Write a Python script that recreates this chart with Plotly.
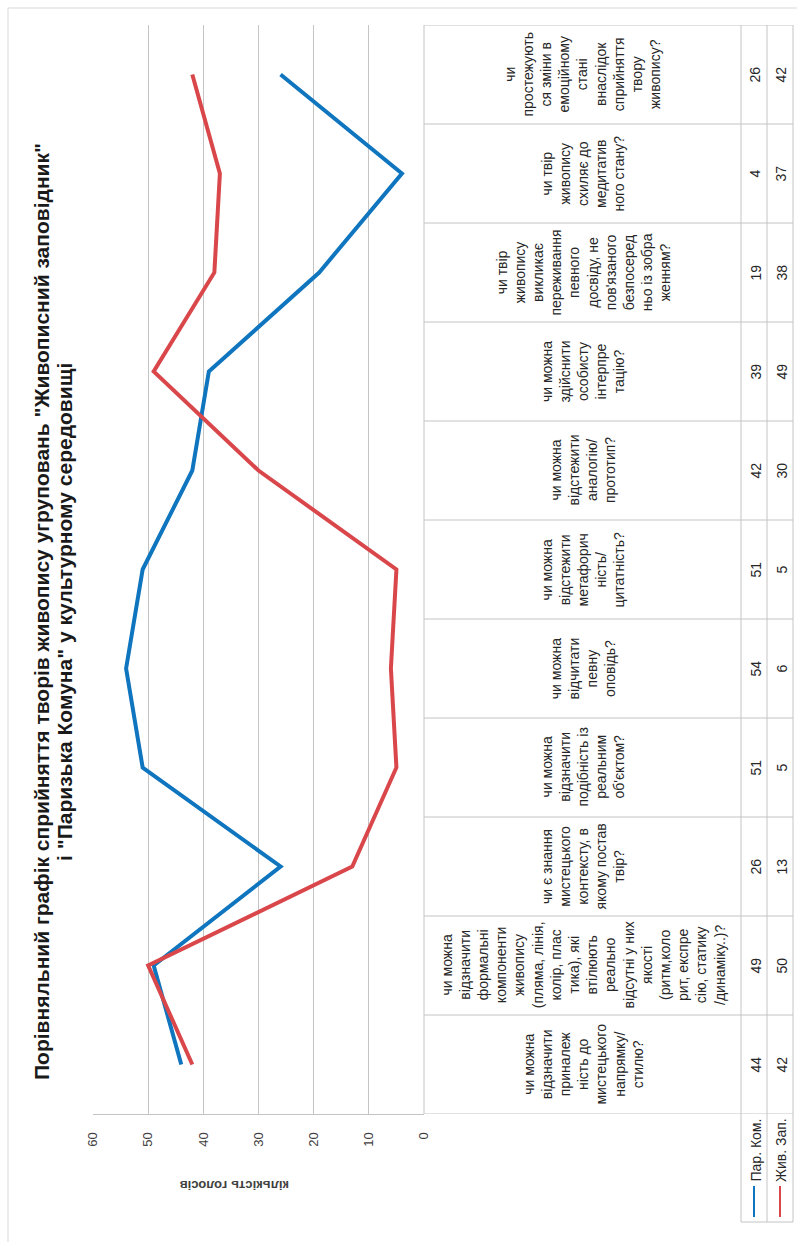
import plotly.graph_objects as go

W, H = 797, 1242

categories = [
    "чи можна<br>відзначити<br>приналеж<br>ність до<br>мистецького<br>напрямку/<br>стилю?",
    "чи можна<br>відзначити<br>формальні<br>компоненти<br>живопису<br>(пляма, лінія,<br>колір, плас<br>тика), які<br>втілюють<br>реально<br>відсутні у них<br>якості<br>(ритм,коло<br>рит, експре<br>сію, статику<br>/динаміку..)?",
    "чи є знання<br>мистецького<br>контексту, в<br>якому постав<br>твір?",
    "чи можна<br>відзначити<br>подібність із<br>реальним<br>об'єктом?",
    "чи можна<br>відчитати<br>певну<br>оповідь?",
    "чи можна<br>відстежити<br>метафорич<br>ність/<br>цитатність?",
    "чи можна<br>відстежити<br>аналогію/<br>прототип?",
    "чи можна<br>здійснити<br>особисту<br>інтерпре<br>тацію?",
    "чи твір<br>живопису<br>викликає<br>переживання<br>певного<br>досвіду, не<br>пов'язаного<br>безпосеред<br>ньо із зобра<br>женням?",
    "чи твір<br>живопису<br>схиляє до<br>медитатив<br>ного стану?",
    "чи<br>простежують<br>ся зміни в<br>емоційному<br>стані<br>внаслідок<br>сприйняття<br>твору<br>живопису?",
]
series_names = ["Пар. Ком.", "Жив. Зап."]
par_kom = [44, 49, 26, 51, 54, 51, 42, 39, 19, 4, 26]
zhyv_zap = [42, 50, 13, 5, 6, 5, 30, 49, 38, 37, 42]
value_ticks = [0, 10, 20, 30, 40, 50, 60]

title_lines = ["Порівняльний графік сприйняття творів живопису угруповань \"Живописний заповідник\"",
               "і \"Паризька Комуна\" у культурному середовищі"]
axis_title = "кількість голосів"

BLUE = "#0E75BE"
RED = "#D9474B"
GRID = "#C4C4C4"
TXT = "#262626"
FONT = "Liberation Sans, Arial, sans-serif"


def px(x):
    return x / W


def py(y):
    return 1 - y / H


cat_pos = list(range(1, len(categories) + 1))

fig = go.Figure()
fig.add_trace(go.Scatter(x=par_kom, y=cat_pos, mode="lines", name=series_names[0],
                         line=dict(color=BLUE, width=4), cliponaxis=False))
fig.add_trace(go.Scatter(x=zhyv_zap, y=cat_pos, mode="lines", name=series_names[1],
                         line=dict(color=RED, width=4), cliponaxis=False))

shapes = []
line_style = dict(color=GRID, width=1)
# outer chart border
shapes.append(dict(type="line", xref="paper", yref="paper", x0=px(8), x1=px(W), y0=py(8), y1=py(8), line=dict(color="#D9D9D9", width=1)))
shapes.append(dict(type="line", xref="paper", yref="paper", x0=px(8), x1=px(8), y0=py(8), y1=py(H), line=dict(color="#D9D9D9", width=1)))
# data table horizontal lines (category boundaries)
for i in range(len(categories) + 1):
    shapes.append(dict(type="line", xref="paper", yref="y", x0=px(424), x1=px(793),
                       y0=i + 0.5, y1=i + 0.5, line=line_style))
# legend cell bottom
shapes.append(dict(type="line", xref="paper", yref="paper", x0=px(741), x1=px(793), y0=py(1222), y1=py(1222), line=line_style))
# vertical lines
shapes.append(dict(type="line", xref="paper", yref="y", x0=px(424), x1=px(424), y0=0.5, y1=len(categories) + 0.5, line=line_style))
for xv in (741, 767, 793):
    shapes.append(dict(type="line", xref="paper", yref="paper", x0=px(xv), x1=px(xv), y0=py(1222), y1=py(25), line=line_style))
# legend keys
shapes.append(dict(type="line", xref="paper", yref="paper", x0=px(754), x1=px(754), y0=py(1186), y1=py(1217), line=dict(color=BLUE, width=2)))
shapes.append(dict(type="line", xref="paper", yref="paper", x0=px(780), x1=px(780), y0=py(1186), y1=py(1217), line=dict(color=RED, width=2)))

annotations = []
for i, lab in enumerate(categories):
    annotations.append(dict(text=lab, xref="paper", yref="y", x=px(583), y=cat_pos[i], textangle=-90,
                            showarrow=False, align="center", font=dict(family=FONT, size=14, color=TXT),
                            xanchor="center", yanchor="middle"))
    annotations.append(dict(text=str(par_kom[i]), xref="paper", yref="y", x=px(755), y=cat_pos[i], textangle=-90,
                            showarrow=False, xanchor="center", yanchor="middle",
                            font=dict(family=FONT, size=14, color=TXT)))
    annotations.append(dict(text=str(zhyv_zap[i]), xref="paper", yref="y", x=px(781), y=cat_pos[i], textangle=-90,
                            showarrow=False, xanchor="center", yanchor="middle",
                            font=dict(family=FONT, size=14, color=TXT)))

annotations.append(dict(text=series_names[0], xref="paper", yref="paper", x=px(755), y=py(1184), textangle=-90,
                        showarrow=False, xanchor="center", yanchor="bottom", font=dict(family=FONT, size=14, color=TXT)))
annotations.append(dict(text=series_names[1], xref="paper", yref="paper", x=px(781), y=py(1184), textangle=-90,
                        showarrow=False, xanchor="center", yanchor="bottom", font=dict(family=FONT, size=14, color=TXT)))
annotations.append(dict(text="<b>" + axis_title + "</b>", xref="paper", yref="paper", x=px(235), y=py(1186), textangle=180,
                        showarrow=False, xanchor="center", yanchor="middle",
                        font=dict(family=FONT, size=13, color="#404040")))
for tx, line in zip((41, 64), title_lines):
    annotations.append(dict(text="<b>" + line + "</b>", xref="paper", yref="paper", x=px(tx), y=py(612), textangle=-90,
                            showarrow=False, xanchor="center", yanchor="middle",
                            font=dict(family=FONT, size=21, color="#1a1a1a")))

fig.update_layout(
    width=W, height=H,
    margin=dict(l=0, r=0, t=0, b=0),
    paper_bgcolor="white", plot_bgcolor="white",
    showlegend=False,
    xaxis=dict(domain=[px(93), px(424)], range=[60, 0], tickvals=value_ticks, showgrid=True,
               gridcolor=GRID, gridwidth=1, zeroline=False, showline=True, linecolor=GRID, linewidth=1,
               tickangle=-90, ticks="", ticklabelstandoff=12, automargin=False,
               tickfont=dict(family=FONT, size=13, color="#404040")),
    yaxis=dict(domain=[py(1114), py(25)], range=[0.5, len(categories) + 0.5], visible=False),
    shapes=shapes,
    annotations=annotations,
)

fig.write_html("out.html")
